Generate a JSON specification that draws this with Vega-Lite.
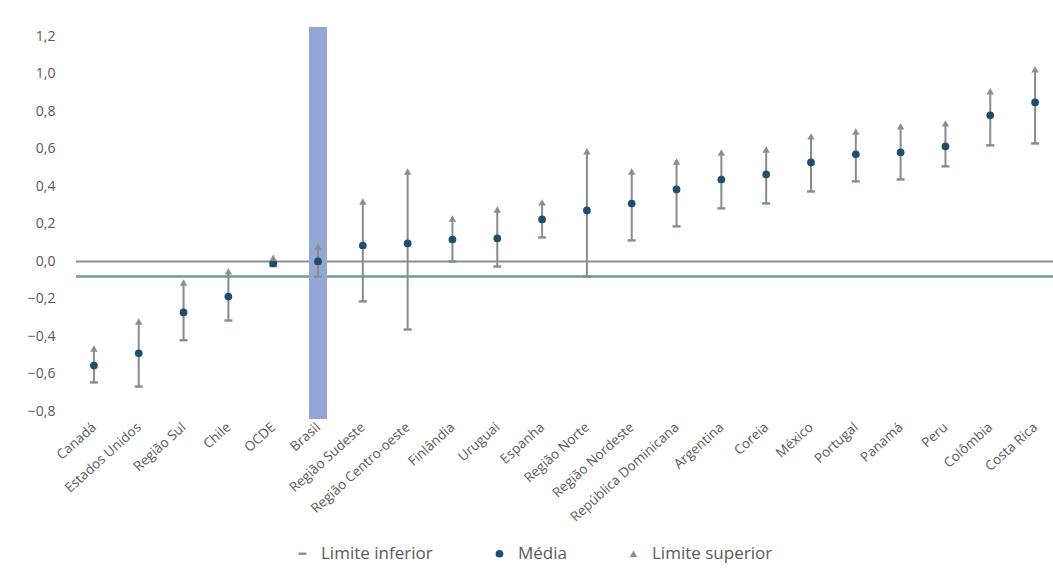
{
  "$schema": "https://vega.github.io/schema/vega-lite/v6.json",
  "autosize": {"type": "none"},
  "padding": {"left": 76, "top": 27, "right": 0, "bottom": 149},
  "width": 977,
  "height": 392,
  "background": "#ffffff",
  "config": {
    "font": "Open Sans",
    "view": {"stroke": null},
    "axis": {"labelColor": "#5a5a5a", "grid": false, "domain": false, "ticks": false, "labelOverlap": false},
    "axisX": {"labelAngle": -42, "labelFontSize": 13.5, "labelPadding": 6, "labelAlign": "right", "labelBaseline": "middle", "labelLimit": 250},
    "axisY": {"tickCount": 11, "labelExpr": "replace(format(datum.value, '.1f'), '.', ',')", "labelFontSize": 14, "labelPadding": 21, "labelSeparation": 0}
  },
  "datasets": {
    "paises": [
      {"pais": "Canadá", "inferior": -0.645, "media": -0.555, "superior": -0.464},
      {"pais": "Estados Unidos", "inferior": -0.667, "media": -0.49, "superior": -0.32},
      {"pais": "Região Sul", "inferior": -0.42, "media": -0.272, "superior": -0.112},
      {"pais": "Chile", "inferior": -0.315, "media": -0.187, "superior": -0.053},
      {"pais": "OCDE", "inferior": -0.025, "media": -0.01, "superior": 0.02},
      {"pais": "Brasil", "inferior": -0.08, "media": 0.0, "superior": 0.08},
      {"pais": "Região Sudeste", "inferior": -0.213, "media": 0.085, "superior": 0.32},
      {"pais": "Região Centro-oeste", "inferior": -0.363, "media": 0.096, "superior": 0.48},
      {"pais": "Finlândia", "inferior": 0.0, "media": 0.117, "superior": 0.229},
      {"pais": "Uruguai", "inferior": -0.027, "media": 0.123, "superior": 0.277},
      {"pais": "Espanha", "inferior": 0.128, "media": 0.224, "superior": 0.315},
      {"pais": "Região Norte", "inferior": -0.08, "media": 0.272, "superior": 0.587},
      {"pais": "Região Nordeste", "inferior": 0.112, "media": 0.309, "superior": 0.48},
      {"pais": "República Dominicana", "inferior": 0.187, "media": 0.384, "superior": 0.533},
      {"pais": "Argentina", "inferior": 0.283, "media": 0.437, "superior": 0.581},
      {"pais": "Coreia", "inferior": 0.309, "media": 0.464, "superior": 0.597},
      {"pais": "México", "inferior": 0.373, "media": 0.528, "superior": 0.667},
      {"pais": "Portugal", "inferior": 0.427, "media": 0.571, "superior": 0.693},
      {"pais": "Panamá", "inferior": 0.437, "media": 0.581, "superior": 0.72},
      {"pais": "Peru", "inferior": 0.507, "media": 0.613, "superior": 0.736},
      {"pais": "Colômbia", "inferior": 0.619, "media": 0.779, "superior": 0.907},
      {"pais": "Costa Rica", "inferior": 0.629, "media": 0.848, "superior": 1.024}
    ],
    "zero": [{"valor": 0.0}],
    "brasil_inferior": [{"valor": -0.08}]
  },
  "layer": [
    {
      "data": {"name": "paises"},
      "mark": {"type": "rule", "color": "#8a8a8a", "strokeWidth": 2},
      "encoding": {
        "x": {
          "field": "pais",
          "type": "nominal",
          "sort": null,
          "title": null,
          "scale": {"type": "point", "padding": 0.4}
        },
        "y": {
          "field": "inferior",
          "type": "quantitative",
          "title": null,
          "scale": {"domain": [-0.84, 1.25], "nice": false, "zero": false}
        },
        "y2": {"field": "superior"}
      }
    },
    {
      "data": {"name": "zero"},
      "mark": {"type": "rule", "color": "#8c8f90", "strokeWidth": 2},
      "encoding": {"y": {"field": "valor", "type": "quantitative", "title": null}}
    },
    {
      "data": {"name": "brasil_inferior"},
      "mark": {"type": "rule", "color": "#6f9a9c", "strokeWidth": 2.5},
      "encoding": {"y": {"field": "valor", "type": "quantitative", "title": null}}
    },
    {
      "data": {"name": "paises"},
      "transform": [{"filter": "datum.pais === 'Brasil'"}],
      "mark": {"type": "bar", "color": "#93a6d5", "size": 20, "opacity": 1},
      "encoding": {"x": {"field": "pais", "type": "nominal", "sort": null, "title": null}}
    },
    {
      "data": {"name": "paises"},
      "transform": [{"filter": "datum.pais === 'Brasil'"}],
      "mark": {"type": "rule", "color": "#8a8a8a", "strokeWidth": 2},
      "encoding": {
        "x": {"field": "pais", "type": "nominal", "sort": null, "title": null},
        "y": {"field": "inferior", "type": "quantitative", "title": null},
        "y2": {"field": "superior"}
      }
    },
    {
      "data": {"name": "paises"},
      "transform": [{"fold": ["inferior", "media", "superior"], "as": ["serie", "valor"]}],
      "mark": {"type": "point", "filled": true, "opacity": 1},
      "encoding": {
        "x": {"field": "pais", "type": "nominal", "sort": null, "title": null},
        "y": {"field": "valor", "type": "quantitative", "title": null},
        "shape": {
          "field": "serie",
          "type": "nominal",
          "scale": {"domain": ["inferior", "media", "superior"], "range": ["M-1,-0.3H1V0.3H-1Z", "circle", "triangle-up"]},
          "legend": {
            "title": null,
            "orient": "none",
            "legendX": 218,
            "legendY": 518,
            "direction": "horizontal",
            "padding": 0,
            "labelFontSize": 17,
            "labelColor": "#5a5a5a",
            "labelOffset": 10,
            "symbolSize": 100,
            "columnPadding": 58,
            "labelExpr": "datum.label === 'inferior' ? 'Limite inferior' : datum.label === 'media' ? 'Média' : 'Limite superior'"
          }
        },
        "color": {
          "field": "serie",
          "type": "nominal",
          "scale": {"domain": ["inferior", "media", "superior"], "range": ["#7b9194", "#1d4e6b", "#8a8e90"]},
          "legend": {
            "title": null,
            "orient": "none",
            "legendX": 218,
            "legendY": 518,
            "direction": "horizontal",
            "padding": 0,
            "labelFontSize": 17,
            "labelColor": "#5a5a5a",
            "labelOffset": 10,
            "symbolSize": 100,
            "columnPadding": 58,
            "labelExpr": "datum.label === 'inferior' ? 'Limite inferior' : datum.label === 'media' ? 'Média' : 'Limite superior'"
          }
        },
        "size": {
          "field": "serie",
          "type": "nominal",
          "scale": {"domain": ["inferior", "media", "superior"], "range": [64, 55, 70]},
          "legend": null
        }
      }
    }
  ]
}
